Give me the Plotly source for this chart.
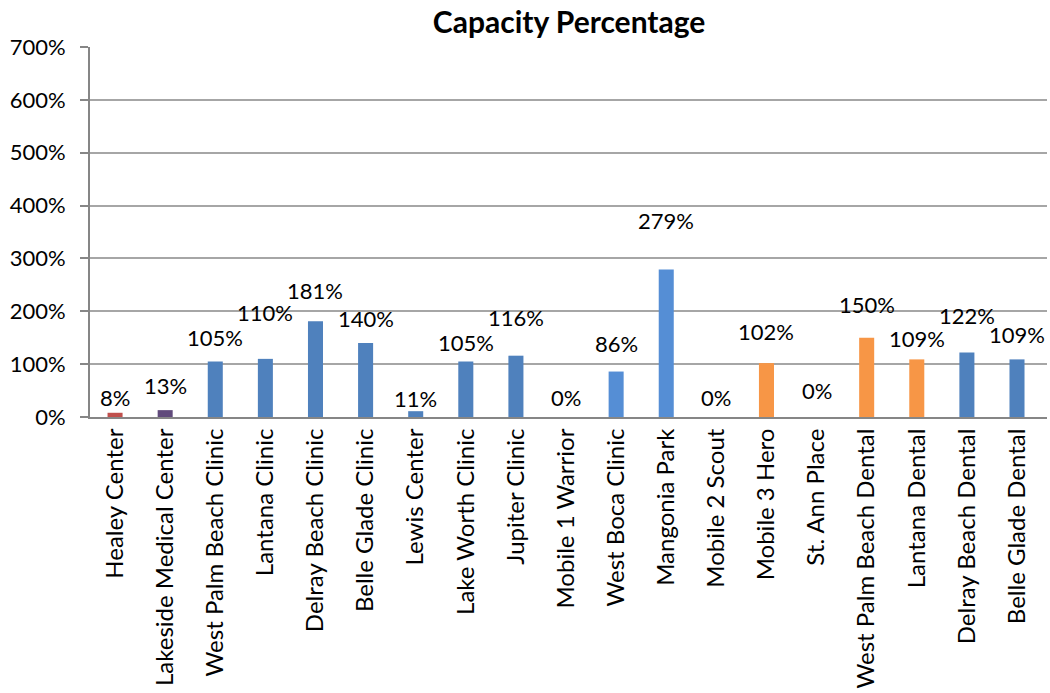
import plotly.graph_objects as go

categories = ["Healey Center", "Lakeside Medical Center", "West Palm Beach Clinic", "Lantana Clinic",
              "Delray Beach Clinic", "Belle Glade Clinic", "Lewis Center", "Lake Worth Clinic",
              "Jupiter Clinic", "Mobile 1 Warrior", "West Boca Clinic", "Mangonia Park",
              "Mobile 2 Scout", "Mobile 3 Hero", "St. Ann Place", "West Palm Beach Dental",
              "Lantana Dental", "Delray Beach Dental", "Belle Glade Dental"]
values = [8, 13, 105, 110, 181, 140, 11, 105, 116, 0, 86, 279, 0, 102, 0, 150, 109, 122, 109]
labels = ["8%", "13%", "105%", "110%", "181%", "140%", "11%", "105%", "116%", "0%", "86%", "279%",
          "0%", "102%", "0%", "150%", "109%", "122%", "109%"]

# styling
bar_colors = ["#C0504D", "#604A7B", "#4F81BD", "#4F81BD", "#4F81BD", "#4F81BD", "#4F81BD", "#4F81BD",
              "#4F81BD", "#4F81BD", "#558ED5", "#558ED5", "#F79646", "#F79646", "#F79646", "#F79646",
              "#F79646", "#4F81BD", "#4F81BD"]
label_shift = [15, 25, 24, 46, 31, 25, 13, 19, 38, 20, 28, 49, 20, 32, 27, 33, 21, 37, 25]

FONT = "Lato, Calibri, sans-serif"

fig = go.Figure()
fig.add_trace(go.Bar(x=categories, y=values, marker=dict(color=bar_colors, line=dict(width=0)),
                     hoverinfo="x+y"))

for c, v, t, s in zip(categories, values, labels, label_shift):
    fig.add_annotation(x=c, y=v, text=t, showarrow=False, yshift=s, yanchor="middle",
                       font=dict(family=FONT, size=22, color="#000000"))

fig.update_layout(
    width=1050, height=693,
    margin=dict(l=90, r=3, t=47, b=276),
    paper_bgcolor="white", plot_bgcolor="white",
    showlegend=False,
    bargap=0.7,
    title=dict(text="<b>Capacity Percentage</b>", x=0.542, xanchor="center", y=0.968, yanchor="middle",
               font=dict(family=FONT, size=30, color="#000000")),
    font=dict(family=FONT, size=22, color="#000000"),
)
fig.update_xaxes(tickangle=-90, showline=True, linecolor="#868686", linewidth=2, ticks="",
                 showgrid=False, tickfont=dict(family=FONT, size=24, color="#000000"))
fig.update_yaxes(range=[0, 700], dtick=100, ticksuffix="%", showgrid=True, gridcolor="#A6A6A6",
                 gridwidth=1.5, showline=True, linecolor="#868686", linewidth=2, ticks="outside",
                 ticklen=8, tickcolor="#868686", tickwidth=1.5, zeroline=False,
                 ticklabelstandoff=10,
                 tickfont=dict(family=FONT, size=22, color="#000000"))

fig.write_html("out.html")
